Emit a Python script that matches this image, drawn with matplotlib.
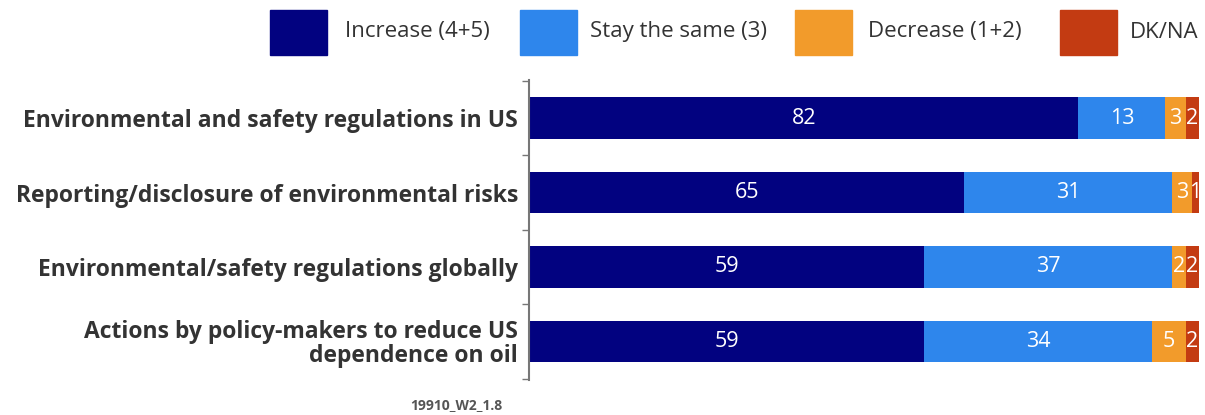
import matplotlib
matplotlib.use("Agg")
import matplotlib.pyplot as plt
from matplotlib.patches import Rectangle

categories = [
    "Environmental and safety regulations in US",
    "Reporting/disclosure of environmental risks",
    "Environmental/safety regulations globally",
    "Actions by policy-makers to reduce US\ndependence on oil",
]
series_names = ["Increase (4+5)", "Stay the same (3)", "Decrease (1+2)", "DK/NA"]
increase = [82, 65, 59, 59]
stay_same = [13, 31, 37, 34]
decrease = [3, 3, 2, 5]
dk_na = [2, 1, 2, 2]
colors = ["#020280", "#2E86EC", "#F29B2B", "#C33B12"]
footnote = "19910_W2_1.8"

plt.rcParams["font.family"] = ["Open Sans", "DejaVu Sans"]

fig = plt.figure(figsize=(12.05, 4.15), dpi=100)
ax = fig.add_axes([0.439, 0.084, 0.556, 0.723])

series = [increase, stay_same, decrease, dk_na]
ypos = list(range(len(categories)))
left = [0] * len(categories)
for vals, col in zip(series, colors):
    bars = ax.barh(ypos, vals, left=left, height=0.56, color=col, edgecolor="none")
    for b, v in zip(bars, vals):
        ax.text(b.get_x() + b.get_width() / 2, b.get_y() + b.get_height() / 2,
                str(v), ha="center", va="center", color="white", fontsize=15.5)
    left = [l + v for l, v in zip(left, vals)]

ax.set_xlim(0, 100)
ax.set_ylim(3.52, -0.51)
ax.set_yticks(ypos)
ax.set_yticklabels(categories, fontsize=16.5, fontweight="bold", color="#333333",
                   linespacing=1.0)
ax.set_yticks([-0.5, 0.5, 1.5, 2.5, 3.5], minor=True)
ax.tick_params(axis="y", which="major", length=0, pad=8)
ax.tick_params(axis="y", which="minor", length=5, width=1, color="#777777", direction="out")
ax.set_xticks([])
for s in ["top", "right", "bottom"]:
    ax.spines[s].set_visible(False)
ax.spines["left"].set_color("#777777")
ax.spines["left"].set_linewidth(1.5)

# legend drawn in figure pixel coordinates
W, H = 1205, 415
legend_items = [(270, 345), (520, 590), (795, 868), (1060, 1130)]
for (px, tx), name, col in zip(legend_items, series_names, colors):
    fig.patches.append(Rectangle((px / W, 1 - 55 / H), 57 / W, 45 / H,
                                 transform=fig.transFigure, color=col))
    fig.text(tx / W, 1 - 32 / H, name, ha="left", va="center", fontsize=16,
             color="#333333")

fig.text(410 / W, 1 - 405 / H, footnote, ha="left", va="center", fontsize=10,
         color="#555555", fontweight="bold")

fig.savefig("out.png", dpi=100)
